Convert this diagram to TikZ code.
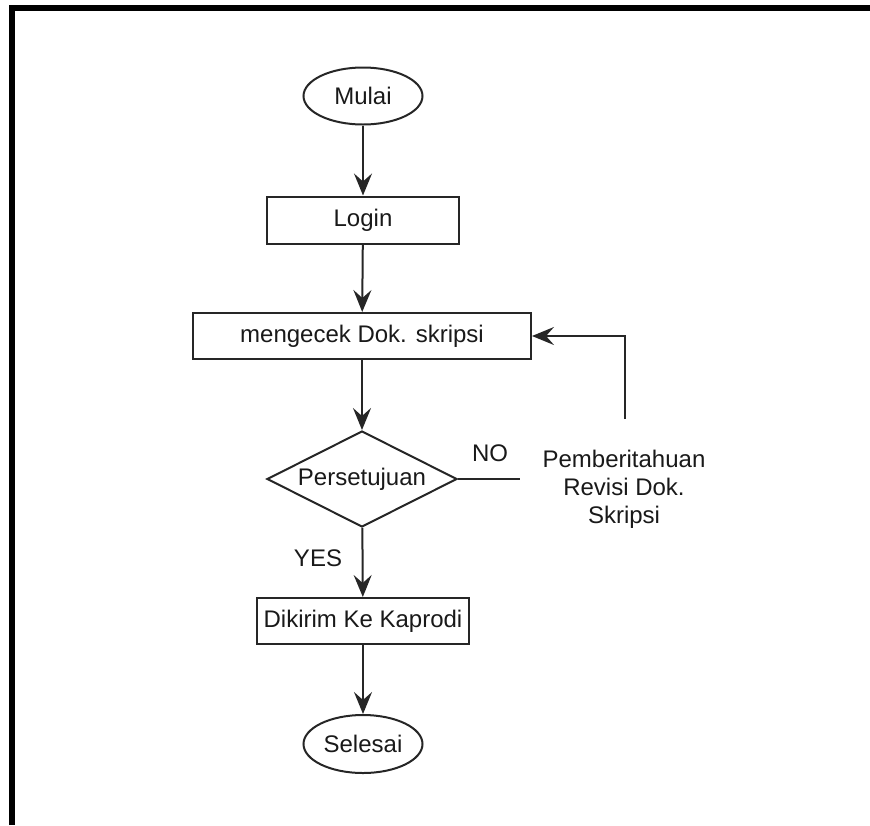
\documentclass[tikz,border=0pt]{standalone}
\usepackage{fontspec}
\setmainfont{Liberation Sans}
\usetikzlibrary{shapes.geometric,arrows.meta}

\tikzset{
  base/.style={draw=black!85, line width=2pt, inner sep=0pt, text=black!90,
    font=\fontsize{24}{28}\selectfont},
  terminal/.style={base, ellipse, minimum width=119pt, minimum height=57pt},
  process/.style={base, rectangle, minimum height=46pt},
  decision/.style={base, diamond, aspect=1.98, minimum width=190pt, minimum height=96pt},
  label/.style={inner sep=0pt, text=black!90, font=\fontsize{24}{28}\selectfont},
  flow/.style={draw=black!85, line width=2pt,
    -{Stealth[length=22pt, width=18pt, inset=8pt]}},
  plain/.style={draw=black!85, line width=2pt}
}

\begin{document}
\begin{tikzpicture}[x=1pt, y=-1pt]
  \useasboundingbox (0,0) rectangle (870,825);

  % frame: top and left edges only
  \draw[line width=6pt, line join=miter] (11.5,825) -- (11.5,8) -- (870,8);

  % nodes
  \node[terminal] (start) at (363,96) {Mulai};
  \node[process, minimum width=192pt, minimum height=47pt] (login) at (363,220) {Login};
  \node[process, minimum width=338pt] (check) at (362,336) {mengecek Dok. skripsi};
  \node[decision] (dec) at (362,479) {Persetujuan};
  \node[process, minimum width=212pt] (send) at (363,621) {Dikirim Ke Kaprodi};
  \node[terminal, minimum height=58pt] (end) at (363,744) {Selesai};

  \node[label, align=center] (note) at (624,489)
    {Pemberitahuan\\Revisi Dok.\\Skripsi};
  \node[label] (no) at (490,453) {NO};
  \node[label] (yes) at (318,558) {YES};

  \coordinate (noend) at (520,479);
  \coordinate (fb) at (625,419);

  % connectors
  \draw[flow] (start) -- (login);
  \draw[flow] (login) -- (check);
  \draw[flow] (check) -- (dec);
  \draw[flow] (dec) -- (send);
  \draw[flow] (send) -- (end);
  \draw[plain] (dec.east) -- (noend);
  \draw[flow] (fb) |- (check.east);
\end{tikzpicture}
\end{document}
